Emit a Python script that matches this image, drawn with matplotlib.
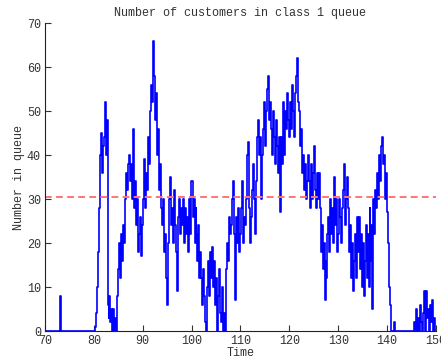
import numpy as np
import matplotlib
matplotlib.use('Agg')
import matplotlib.pyplot as plt

# Queue length sampled every 0.2 time units, starting at t = 70
t_start = 70.0
dt = 0.2
queue = [
    0, 0, 0, 0, 0, 0, 0, 0, 0, 0,          # 70-72
    0, 0, 0, 0, 0, 8, 0, 0, 0, 0,          # 72-74
    0, 0, 0, 0, 0, 0, 0, 0, 0, 0,          # 74-76
    0, 0, 0, 0, 0, 0, 0, 0, 0, 0,          # 76-78
    0, 0, 0, 0, 0, 0, 0, 0, 0, 0,          # 78-80
    0, 1, 4, 10, 18, 28, 40, 45, 36, 42,   # 80-82
    44, 52, 40, 48, 6, 3, 8, 2, 5, 0,      # 82-84
    5, 0, 3, 0, 8, 14, 20, 12, 22, 16,     # 84-86
    24, 20, 30, 36, 32, 38, 40, 34, 38, 30,  # 86-88
    46, 28, 34, 24, 30, 18, 22, 26, 17, 24,  # 88-90
    30, 39, 28, 36, 32, 44, 38, 50, 56, 52,  # 90-92
    62, 66, 58, 48, 54, 40, 46, 32, 38, 28,  # 92-94
    24, 30, 18, 22, 12, 6, 20, 30, 35, 24,   # 94-96
    28, 20, 32, 24, 18, 9, 26, 30, 22, 28,   # 96-98
    24, 30, 20, 28, 22, 26, 18, 30, 22, 34,  # 98-100
    34, 26, 30, 20, 28, 22, 16, 24, 12, 18,  # 100-102
    12, 6, 14, 8, 2, 0, 10, 16, 8, 18,       # 102-104
    12, 19, 10, 16, 6, 12, 0, 8, 14, 4,      # 104-106
    2, 10, 0, 4, 0, 14, 20, 16, 26, 22,      # 106-108
    24, 30, 34, 22, 7, 26, 20, 28, 24, 18,   # 108-110
    22, 28, 34, 20, 26, 24, 30, 40, 43, 28,  # 110-112
    20, 26, 32, 38, 30, 22, 34, 44, 48, 40,  # 112-114
    44, 30, 40, 46, 52, 42, 50, 55, 58, 48,  # 114-116
    52, 46, 40, 50, 44, 38, 48, 42, 36, 44,  # 116-118
    27, 44, 38, 48, 52, 40, 50, 46, 54, 48,  # 118-120
    44, 52, 46, 56, 50, 44, 54, 58, 62, 52,  # 120-122
    50, 42, 46, 36, 40, 32, 38, 30, 34, 40,  # 122-124
    34, 28, 38, 30, 36, 42, 32, 28, 36, 30,  # 124-126
    36, 28, 18, 24, 14, 20, 7, 16, 12, 22,   # 126-128
    26, 18, 30, 22, 28, 20, 35, 24, 30, 18,  # 128-130
    22, 30, 26, 20, 28, 32, 38, 24, 30, 35,  # 130-132
    28, 18, 24, 12, 20, 9, 16, 22, 12, 26,   # 132-134
    18, 26, 14, 22, 10, 20, 8, 16, 24, 12,   # 134-136
    22, 10, 28, 16, 24, 5, 30, 22, 32, 28,   # 136-138
    36, 30, 40, 34, 42, 44, 38, 40, 30, 36,  # 138-140
    27, 20, 10, 6, 0, 0, 0, 2, 0, 0,         # 140-142
    0, 0, 0, 0, 0, 0, 0, 0, 0, 0,            # 142-144
    0, 0, 0, 0, 0, 0, 0, 0, 2, 0,            # 144-146
    5, 0, 3, 0, 6, 2, 0, 4, 9, 0,            # 146-148
    9, 3, 5, 0, 6, 2, 7, 0, 3, 0,            # 148-150
]
mean_level = 30.5

times = t_start + dt * np.arange(len(queue))

plt.rcParams['font.family'] = ['Liberation Mono', 'DejaVu Sans Mono']
plt.rcParams['font.size'] = 8.5

fig = plt.figure(figsize=(4.41, 3.58), dpi=100)
ax = fig.add_axes([0.102, 0.0754, 0.8866, 0.860])

ax.plot(times, queue, color='#0000ff', linewidth=1.2, drawstyle='steps-post')
ax.axhline(mean_level, color='#ff7474', linewidth=1.4, linestyle=(0, (3.5, 2.2)))

ax.set_xlim(70, 150)
ax.set_ylim(0, 70)
ax.set_xticks(np.arange(70, 151, 10))
ax.set_yticks(np.arange(0, 71, 10))
ax.tick_params(direction='in', length=4, width=0.8, colors='#333333', pad=3)
ax.spines['top'].set_visible(False)
ax.spines['right'].set_visible(False)
for s in ['left', 'bottom']:
    ax.spines[s].set_linewidth(0.8)
    ax.spines[s].set_color('#222222')

ax.set_title('Number of customers in class 1 queue', color='#333333',
             fontsize=8.5, pad=5)
ax.set_xlabel('Time', color='#333333', labelpad=0)
ax.set_ylabel('Number in queue', color='#333333', labelpad=1)

fig.savefig('out.png', dpi=100)
